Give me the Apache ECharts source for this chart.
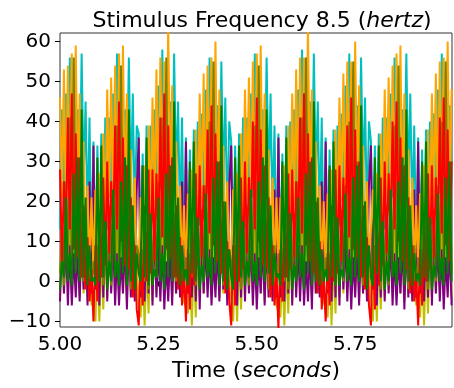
<!DOCTYPE html>
<html>
<head>
<meta charset="utf-8">
<script src="https://cdn.jsdelivr.net/npm/echarts@6/dist/echarts.min.js"></script>
<style>
  html, body { margin: 0; padding: 0; background: #fff; }
  #chart { width: 454px; height: 388px; }
</style>
</head>
<body>
<div id="chart"></div>
<script>
// sample times, seconds (one sample every 0.005 s)
var times = [
  5.000, 5.005, 5.010, 5.015, 5.020, 5.025, 5.030, 5.035, 5.040, 5.045,
  5.050, 5.055, 5.060, 5.065, 5.070, 5.075, 5.080, 5.085, 5.090, 5.095,
  5.100, 5.105, 5.110, 5.115, 5.120, 5.125, 5.130, 5.135, 5.140, 5.145,
  5.150, 5.155, 5.160, 5.165, 5.170, 5.175, 5.180, 5.185, 5.190, 5.195,
  5.200, 5.205, 5.210, 5.215, 5.220, 5.225, 5.230, 5.235, 5.240, 5.245,
  5.250, 5.255, 5.260, 5.265, 5.270, 5.275, 5.280, 5.285, 5.290, 5.295,
  5.300, 5.305, 5.310, 5.315, 5.320, 5.325, 5.330, 5.335, 5.340, 5.345,
  5.350, 5.355, 5.360, 5.365, 5.370, 5.375, 5.380, 5.385, 5.390, 5.395,
  5.400, 5.405, 5.410, 5.415, 5.420, 5.425, 5.430, 5.435, 5.440, 5.445,
  5.450, 5.455, 5.460, 5.465, 5.470, 5.475, 5.480, 5.485, 5.490, 5.495,
  5.500, 5.505, 5.510, 5.515, 5.520, 5.525, 5.530, 5.535, 5.540, 5.545,
  5.550, 5.555, 5.560, 5.565, 5.570, 5.575, 5.580, 5.585, 5.590, 5.595,
  5.600, 5.605, 5.610, 5.615, 5.620, 5.625, 5.630, 5.635, 5.640, 5.645,
  5.650, 5.655, 5.660, 5.665, 5.670, 5.675, 5.680, 5.685, 5.690, 5.695,
  5.700, 5.705, 5.710, 5.715, 5.720, 5.725, 5.730, 5.735, 5.740, 5.745,
  5.750, 5.755, 5.760, 5.765, 5.770, 5.775, 5.780, 5.785, 5.790, 5.795,
  5.800, 5.805, 5.810, 5.815, 5.820, 5.825, 5.830, 5.835, 5.840, 5.845,
  5.850, 5.855, 5.860, 5.865, 5.870, 5.875, 5.880, 5.885, 5.890, 5.895,
  5.900, 5.905, 5.910, 5.915, 5.920, 5.925, 5.930, 5.935, 5.940, 5.945,
  5.950, 5.955, 5.960, 5.965, 5.970, 5.975, 5.980, 5.985, 5.990, 5.995
];

var pinkVals = [
  -2, 29, 1, 35, -1, 39, -3, 41, 0, 33, -2, 27, -1, 17, -3, 13, -1,
  7, -1, 13, -3, 15, -2, 23, -1, 29, 0, 37, -2, 37, -1, 41, 1, 33, -3, 27, -2, 17, -2, 11,
  9, -2, 11, -4, 17, -1, 21, -2, 31, -1, 35, 0, 39, -3, 39, 0, 35, -2, 25, -1, 19, -3, 13, -1,
  8, -3, 12, -2, 16, -1, 22, -2, 30, 0, 36, -1, 38, -2, 40, 0, 34, -3, 26, -1, 18, -2, 12,
  7, -1, 13, -3, 15, -2, 23, -1, 29, 0, 37, -2, 37, -1, 41, 1, 33, -3, 27, -2, 17, -2, 11, -2,
  9, -2, 11, -4, 17, -1, 21, -2, 31, -1, 35, 0, 39, -3, 39, 0, 35, -2, 25, -1, 19, -3, 13, -1,
  8, -2, 12, -3, 16, -1, 22, -2, 30, 0, 36, -1, 38, -2, 40, 0, 34, -3, 26, -1, 18, -2, 12,
  7, -1, 13, -3, 15, -2, 23, -1, 29, 0, 37, -2, 37, -1, 41, 1, 33, -3, 27, -2, 17, -2, 11, -2,
  8, -2, 12, -3, 16, -1, 22, -2, 30, 0, 36, -1, 38, -2, 40, 0, 34, -3
];

var yellowVals = [
  -5, 13, -3, 17, -1, 19, -3, 14, -2, 11, -4, 9, -3, 7, -5, 4, -6,
  -4, -10, 5, -10, 7, -7, 9, -4, 13, -2, 17, -3, 18, -2, 14, -3, 12, -5, 10, -2, 8, -4, 6,
  -6, -9, 3, -11, 5, -8, 11, -5, 15, -3, 15, -2, 19, -3, 16, -1, 13, -4, 9, -3, 7, -3, 5, -5,
  -5, -8, 4, -11, 6, -9, 10, -4, 14, -3, 16, -2, 18, -4, 15, -2, 12, -4, 10, -3, 8, -4, 4,
  -4, -10, 5, -10, 7, -7, 9, -4, 13, -2, 17, -3, 17, -2, 14, -3, 11, -5, 10, -2, 8, -4, 6, -6,
  -6, -9, 3, -11, 5, -8, 11, -5, 15, -3, 15, -2, 19, -3, 16, -1, 13, -4, 9, -3, 7, -3, 5, -5,
  -5, -9, 4, -11, 6, -8, 10, -4, 14, -3, 16, -2, 18, -3, 15, -2, 12, -4, 10, -3, 8, -4, 5,
  -4, -10, 5, -10, 7, -7, 9, -4, 13, -2, 17, -3, 18, -2, 14, -3, 12, -5, 10, -2, 8, -4, 6, -6,
  -5, -9, 4, -11, 6, -8, 10, -4, 14, -3, 16, -2, 18, -3, 15, -2, 12, -4
];

var cyanVals = [
  13, 43, 17, 47, 23, 56, 27, 45, 29, 43, 24, 57, 25, 45, 14, 41, 5,
  35, 3, 34, 5, 37, 9, 41, 13, 41, 19, 47, 21, 57, 27, 45, 27, 43, 26, 56, 23, 47, 16, 39,
  37, 1, 32, 3, 39, 7, 39, 15, 43, 17, 49, 23, 58, 25, 47, 29, 45, 24, 57, 25, 45, 14, 41, 7,
  36, 2, 33, 4, 38, 8, 40, 14, 42, 18, 48, 22, 56, 26, 46, 28, 44, 25, 55, 24, 46, 15, 40,
  35, 3, 34, 5, 37, 9, 41, 13, 41, 19, 47, 21, 57, 27, 45, 27, 43, 26, 56, 23, 47, 16, 39, 5,
  37, 2, 32, 3, 39, 7, 40, 15, 43, 17, 48, 23, 58, 25, 47, 29, 45, 24, 57, 25, 45, 14, 41, 6,
  36, 1, 33, 4, 38, 8, 39, 14, 42, 18, 49, 22, 57, 26, 46, 28, 44, 25, 56, 24, 46, 15, 40,
  35, 3, 34, 5, 37, 9, 41, 13, 41, 19, 47, 21, 56, 27, 45, 27, 43, 26, 57, 23, 47, 16, 39, 7,
  36, 2, 33, 4, 38, 8, 40, 14, 42, 18, 48, 22, 57, 26, 46, 28, 44, 25
];

var purpleVals = [
  -5, 15, -3, 11, -6, 9, -6, 7, -4, 8, -5, 13, -2, 15, -6, 25, -3,
  34, -2, 27, -6, 21, -4, 19, -5, 13, -3, 11, -6, 7, -6, 6, -3, 10, -7, 11, -4, 17, -5, 23,
  36, -4, 29, -5, 23, -3, 17, -6, 15, -4, 9, -5, 9, -7, 5, -5, 8, -6, 13, -3, 15, -4, 25, -3,
  35, -3, 28, -4, 22, -5, 18, -7, 14, -3, 10, -4, 8, -6, 6, -4, 9, -5, 12, -2, 16, -6, 24,
  34, -2, 27, -6, 21, -4, 19, -5, 13, -3, 11, -6, 7, -7, 6, -3, 10, -6, 11, -4, 17, -5, 23, -4,
  36, -4, 29, -5, 23, -3, 17, -6, 15, -4, 9, -5, 9, -6, 5, -5, 8, -7, 13, -3, 15, -4, 25, -3,
  35, -3, 28, -5, 22, -4, 18, -6, 14, -2, 10, -5, 8, -7, 6, -4, 9, -6, 12, -3, 16, -5, 24,
  34, -2, 27, -6, 21, -4, 19, -5, 13, -3, 11, -6, 7, -6, 6, -3, 10, -7, 11, -4, 17, -5, 23, -4,
  35, -3, 28, -5, 22, -4, 18, -6, 14, -3, 10, -5, 8, -7, 6, -4, 9, -6
];

var orangeVals = [
  46, 21, 53, 17, 54, 23, 57, 24, 59, 21, 47, 11, 35, 4, 24, 3, 21,
  2, 23, 0, 27, 9, 37, 14, 48, 21, 51, 19, 54, 21, 57, 24, 59, 19, 47, 13, 33, 6, 26, 1,
  3, 21, 2, 29, 7, 39, 16, 46, 19, 53, 17, 56, 23, 55, 26, 64, 21, 49, 11, 35, 4, 24, 3, 19,
  2, 22, 1, 28, 8, 38, 15, 47, 20, 52, 18, 54, 22, 56, 24, 60, 20, 48, 12, 34, 5, 25, 2,
  4, 23, 0, 27, 9, 37, 14, 48, 21, 51, 19, 55, 21, 57, 25, 59, 19, 47, 13, 33, 6, 26, 1, 21,
  3, 21, 1, 29, 7, 39, 16, 47, 19, 53, 17, 56, 23, 56, 26, 64, 21, 48, 11, 35, 4, 24, 2, 20,
  2, 22, 2, 28, 8, 38, 15, 46, 20, 52, 18, 55, 22, 55, 24, 60, 20, 49, 12, 34, 5, 25, 3,
  3, 23, 1, 27, 9, 37, 14, 48, 21, 51, 19, 54, 21, 57, 25, 59, 19, 47, 13, 33, 6, 26, 2, 19,
  3, 22, 0, 29, 8, 38, 15, 47, 20, 52, 18, 55, 22, 56, 25, 60, 20, 48
];

var oliveVals = [
  2, 17, -1, 25, 2, 41, 0, 56, 3, 31, 1, 17, 0, 13, 2, 7, -1,
  5, 0, 9, 2, 11, -1, 13, 1, 19, -1, 23, 2, 39, 0, 54, 3, 31, 1, 15, -2, 11, 0, 9,
  7, -2, 8, 0, 9, -2, 15, 2, 17, 1, 25, 4, 41, 2, 56, 5, 29, 3, 17, 0, 13, 2, 7, -1,
  6, -1, 7, 1, 10, -1, 14, 3, 18, 0, 24, 3, 40, 1, 55, 4, 30, 2, 16, -1, 12, 1, 8,
  5, 0, 9, 2, 11, -2, 13, 1, 19, -1, 23, 2, 39, 0, 54, 3, 31, 1, 15, -2, 11, 0, 9, -2,
  7, -1, 8, 0, 9, -2, 15, 2, 17, 1, 25, 4, 41, 2, 56, 5, 29, 3, 17, 0, 13, 2, 7, -1,
  6, -2, 7, 1, 10, -1, 14, 3, 18, 0, 24, 3, 40, 1, 55, 4, 30, 2, 16, -1, 12, 1, 8,
  5, 0, 9, 2, 11, -2, 13, 1, 19, -1, 23, 2, 39, 0, 54, 3, 31, 1, 15, -2, 11, 0, 9, -2,
  6, -1, 8, 1, 10, -2, 14, 2, 18, 0, 24, 3, 40, 1, 55, 4, 30, 2
];

var redVals = [
  28, 5, 25, 11, 41, 13, 47, 8, 37, 6, 31, 1, 19, -2, 11, -5, 3,
  -10, 9, -5, 17, 1, 26, 4, 30, 7, 25, 11, 39, 13, 45, 10, 36, 4, 29, 3, 21, -4, 9, -7,
  -11, 7, -6, 19, 0, 28, 2, 28, 5, 27, 9, 41, 11, 47, 8, 39, 6, 31, 1, 19, -2, 11, -6, 3,
  -10, 8, -7, 18, -1, 27, 4, 29, 6, 24, 10, 38, 12, 44, 9, 37, 5, 30, 2, 20, -3, 10, -5,
  -11, 9, -6, 17, 0, 26, 3, 30, 7, 26, 11, 40, 13, 46, 10, 38, 4, 29, 3, 21, -4, 9, -6, 2,
  -12, 8, -5, 18, 1, 27, 3, 28, 6, 25, 10, 41, 12, 47, 9, 37, 5, 31, 2, 20, -3, 10, -7, 1,
  -10, 7, -6, 19, 0, 28, 2, 29, 5, 26, 9, 39, 11, 46, 8, 38, 6, 30, 1, 19, -2, 11, -6,
  -11, 9, -7, 18, -1, 26, 4, 30, 7, 27, 11, 40, 13, 45, 10, 36, 5, 29, 3, 21, -3, 9, -5, 2,
  -11, 8, -6, 17, 0, 27, 3, 29, 6, 26, 10, 41, 12, 46, 9, 38, 5, 30
];

var greenVals = [
  -2, 5, 1, 21, 0, 7, -1, 27, 2, 31, 0, 43, 1, 21, -1, 9, 0,
  1, -1, 31, 0, 34, 1, 15, -2, 5, 0, 23, 1, 5, -1, 25, 2, 31, -1, 43, 0, 19, -2, 7,
  2, 0, 29, 1, 36, -1, 17, -1, 3, 1, 21, 0, 7, -2, 27, 1, 29, 0, 45, 1, 21, -1, 9, 0,
  3, -1, 30, 2, 35, 0, 16, -2, 4, 0, 22, 1, 6, -1, 26, 2, 30, -1, 44, 0, 20, -2, 8,
  1, -2, 31, 0, 34, 1, 15, -1, 5, 1, 23, 0, 5, -1, 25, 1, 31, 0, 43, 2, 19, -1, 7, 1,
  2, -1, 30, 1, 36, 0, 17, -2, 4, 0, 21, 1, 7, -2, 27, 2, 30, -1, 45, 0, 21, -1, 8, 0,
  3, 0, 29, 1, 35, -1, 16, -1, 3, 1, 22, 0, 6, -1, 26, 1, 29, 0, 44, 1, 20, -2, 9,
  1, -1, 31, 2, 34, 0, 15, -2, 5, 0, 23, 1, 5, -1, 25, 2, 31, -1, 43, 0, 19, -1, 7, 0,
  2, -1, 30, 1, 35, 0, 16, -2, 4, 1, 22, 0, 6, -1, 26, 2, 30, 0
];

var xTicks = [5.00, 5.25, 5.50, 5.75];
var yTicks = [-10, 0, 10, 20, 30, 40, 50, 60];

// drawing order: later entries are painted on top
var channels = [
  {name: 'pink', color: '#ffc0cb', vals: pinkVals},
  {name: 'y', color: '#bfbf00', vals: yellowVals},
  {name: 'c', color: '#00bfbf', vals: cyanVals},
  {name: 'purple', color: '#800080', vals: purpleVals},
  {name: 'orange', color: '#ffa500', vals: orangeVals},
  {name: 'olive', color: '#808000', vals: oliveVals},
  {name: 'r', color: '#ff0000', vals: redVals},
  {name: 'g', color: '#008000', vals: greenVals},
];

var font = 'DejaVu Sans';

var chart = echarts.init(document.getElementById('chart'), null, {renderer: 'canvas'});

var option = {
  animation: false,
  backgroundColor: '#ffffff',
  title: {
    text: '{n|Stimulus Frequency 8.5 (}{i|hertz}{n|)}',
    left: 257,
    textAlign: 'center',
    top: 5,
    textStyle: {
      fontWeight: 'normal',
      rich: {
        n: {fontFamily: font, fontSize: 22, fontWeight: 'normal', color: '#000'},
        i: {fontFamily: font, fontSize: 22, fontWeight: 'normal', fontStyle: 'italic', color: '#000'},
      },
    },
  },
  grid: {
    left: 60,
    right: 2,
    top: 33,
    bottom: 61,
    show: true,
    borderColor: '#333',
    borderWidth: 1,
    backgroundColor: 'transparent',
  },
  xAxis: {
    type: 'value',
    min: 5.0,
    max: 5.996,
    name: '{n|Time (}{i|seconds}{n|)}',
    nameLocation: 'middle',
    nameGap: 33,
    nameTextStyle: {
      rich: {
        n: {fontFamily: font, fontSize: 22, color: '#000'},
        i: {fontFamily: font, fontSize: 22, fontStyle: 'italic', color: '#000'},
      },
    },
    axisLine: {show: false},
    axisTick: {
      show: true,
      length: 5,
      customValues: xTicks,
      lineStyle: {color: '#000'},
    },
    axisLabel: {
      customValues: xTicks,
      margin: 8,
      fontFamily: font,
      fontSize: 20,
      color: '#000',
      formatter: function(v) { return v.toFixed(2); },
    },
    splitLine: {show: false},
  },
  yAxis: {
    type: 'value',
    min: -11.4,
    max: 62.1,
    axisLine: {show: false},
    axisTick: {
      show: true,
      length: 5,
      customValues: yTicks,
      lineStyle: {color: '#000'},
    },
    axisLabel: {
      customValues: yTicks,
      margin: 9,
      fontFamily: font,
      fontSize: 20,
      color: '#000',
      formatter: function(v) { return String(v).replace('-', '\u2212'); },
    },
    splitLine: {show: false},
  },
  series: channels.map(function(ch) {
    return {
      name: ch.name,
      type: 'line',
      showSymbol: false,
      clip: true,
      data: ch.vals.map(function(v, i) { return [times[i], v]; }),
      lineStyle: {color: ch.color, width: 2},
      itemStyle: {color: ch.color},
    };
  }),
};

chart.setOption(option);
</script>
</body>
</html>
